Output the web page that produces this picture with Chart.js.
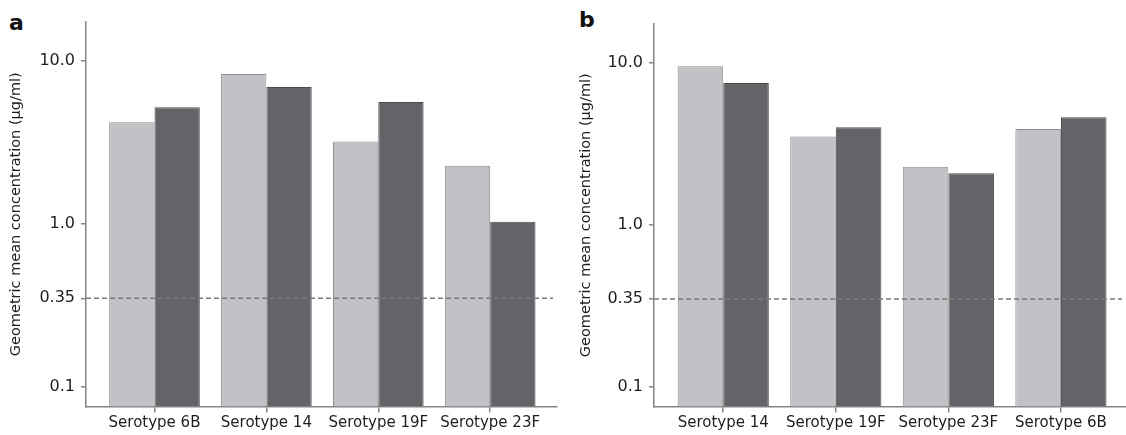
<!DOCTYPE html>
<html>
<head>
<meta charset="utf-8">
<script src="https://cdn.jsdelivr.net/npm/chart.js@4"></script>
<style>
  html, body { margin: 0; padding: 0; background: #fff; overflow: hidden; }
  body { width: 1126px; height: 435px; position: relative; font-family: 'DejaVu Sans', sans-serif; }
  .panel { position: absolute; top: 0; height: 435px; }
  .tag { position: absolute; font-weight: bold; font-size: 22px; color: #111; line-height: 1; }
</style>
</head>
<body>
<div class="tag" style="left:9px; top:12px;">a</div>
<div class="tag" style="left:579px; top:9px;">b</div>
<div class="panel" style="left:0; width:563px;"><canvas id="chartA"></canvas></div>
<div class="panel" style="left:568px; width:558px;"><canvas id="chartB"></canvas></div>
<script>
// panel a
var categoriesA = ['Serotype 6B', 'Serotype 14', 'Serotype 19F', 'Serotype 23F'];
var lightA = [4.2, 8.3, 3.2, 2.27];
var darkA = [5.2, 6.9, 5.6, 1.03];

// panel b
var categoriesB = ['Serotype 14', 'Serotype 19F', 'Serotype 23F', 'Serotype 6B'];
var lightB = [9.5, 3.5, 2.28, 3.9];
var darkB = [7.5, 4.0, 2.08, 4.6];

// y axis
var yTickValues = [0.1, 0.35, 1, 10];
var yTickLabels = ['0.1', '0.35', '1.0', '10.0'];
var cutoff = 0.35;

Chart.defaults.font.family = "'DejaVu Sans', sans-serif";
Chart.defaults.color = '#1e1e1e';

var axisGray = '#858585';

// dashed cut-off line, drawn over the bars
var cutoffLine = {
  id: 'cutoffLine',
  afterDatasetsDraw: function (chart) {
    var ctx = chart.ctx;
    var area = chart.chartArea;
    var y = chart.scales.y.getPixelForValue(cutoff);
    ctx.save();
    ctx.strokeStyle = '#7a7a7a';
    ctx.lineWidth = 1.5;
    ctx.setLineDash([5, 3]);
    ctx.beginPath();
    ctx.moveTo(area.left, y);
    ctx.lineTo(area.right - 4, y);
    ctx.stroke();
    ctx.restore();
  }
};

function points(values) {
  return values.map(function (v, i) { return { x: i + 1, y: v }; });
}

function makeChart(id, cats, light, dark, xMin, xMax, titlePad, rightPad, topPad) {
  return new Chart(document.getElementById(id), {
    type: 'bar',
    data: {
      datasets: [
        {
          label: 'light',
          data: points(light),
          backgroundColor: '#c1c2c5',
          borderColor: '#8e8f92',
          borderWidth: 1,
          categoryPercentage: 0.81,
          barPercentage: 1
        },
        {
          label: 'dark',
          data: points(dark),
          backgroundColor: '#636467',
          borderColor: '#4b4c4e',
          borderWidth: 1,
          categoryPercentage: 0.81,
          barPercentage: 1
        }
      ]
    },
    options: {
      responsive: true,
      maintainAspectRatio: false,
      animation: false,
      layout: { padding: { left: 0, right: rightPad, top: topPad, bottom: 0 } },
      plugins: { legend: { display: false }, tooltip: { enabled: false } },
      scales: {
        x: {
          type: 'linear',
          offset: false,
          min: xMin,
          max: xMax,
          afterBuildTicks: function (scale) {
            scale.ticks = cats.map(function (c, i) { return { value: i + 1 }; });
          },
          afterFit: function (scale) { scale.height = 28.5; },
          ticks: {
            autoSkip: false,
            maxRotation: 0,
            padding: 2,
            font: { size: 15 },
            callback: function (value) { return cats[value - 1]; }
          },
          grid: { display: true, offset: false, drawOnChartArea: false, tickLength: 6, color: axisGray, lineWidth: 1.5 },
          border: { display: true, color: axisGray, width: 1.5 }
        },
        y: {
          type: 'logarithmic',
          min: 0.076,
          max: 17.3,
          afterBuildTicks: function (scale) {
            scale.ticks = yTickValues.map(function (v) { return { value: v }; });
          },
          afterFit: function (scale) { scale.width = 86; },
          ticks: {
            padding: 6,
            font: { size: 16 },
            callback: function (value) {
              var i = yTickValues.indexOf(value);
              return i >= 0 ? yTickLabels[i] : '';
            }
          },
          grid: { display: true, drawOnChartArea: false, tickLength: 5, color: axisGray, lineWidth: 1.5 },
          border: { display: true, color: axisGray, width: 1.5 },
          title: {
            display: true,
            text: 'Geometric mean concentration (\u00b5g/ml)',
            font: { size: 14.5 },
            padding: { top: titlePad, bottom: 0 }
          }
        }
      }
    },
    plugins: [cutoffLine]
  });
}

makeChart('chartA', categoriesA, lightA, darkA, 0.388, 4.597, 8, 6, 22);
makeChart('chartB', categoriesB, lightB, darkB, 0.385, 4.578, 10, 0, 24);
</script>
</body>
</html>
